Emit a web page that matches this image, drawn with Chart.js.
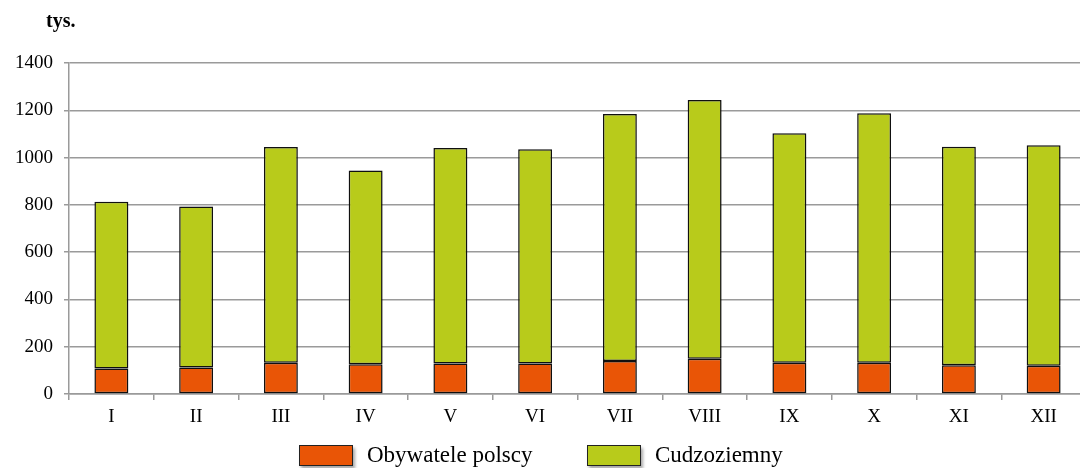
<!DOCTYPE html>
<html>
<head>
<meta charset="utf-8">
<script src="https://cdn.jsdelivr.net/npm/chart.js@4"></script>
<style>
  html, body { margin: 0; padding: 0; background: #fff; overflow: hidden; }
  #wrap { position: relative; width: 1090px; height: 468px; }
  #legend { position: absolute; top: 440px; left: 0; width: 1080px; height: 28px;
            font-family: "Liberation Serif", "Times New Roman", serif; font-size: 23px; color: #000; }
  .item { position: absolute; top: 2px; display: flex; align-items: center; }
  .box { width: 52px; height: 19px; border: 1px solid #222; box-shadow: 2px 3px 3px rgba(0,0,0,0.35); margin-right: 14px; }
</style>
</head>
<body>
<div id="wrap">
  <canvas id="chart" width="1090" height="468"></canvas>
  <div id="legend">
    <div class="item" style="left:299px"><div class="box" style="background:#E95506"></div><span>Obywatele polscy</span></div>
    <div class="item" style="left:587px"><div class="box" style="background:#B8CB1B"></div><span>Cudzoziemny</span></div>
  </div>
</div>
<script>
// miesiące
const miesiace = ['I', 'II', 'III', 'IV', 'V', 'VI', 'VII', 'VIII', 'IX', 'X', 'XI', 'XII'];
// tys. osób
const obywatelePolscy = [108, 112, 132, 126, 129, 129, 140, 149, 132, 132, 122, 119];
const cudzoziemcy = [705, 681, 913, 819, 911, 906, 1044, 1095, 971, 1055, 924, 933];
const jednostka = 'tys.';

const fontSerif = '"Liberation Serif", "Times New Roman", serif';
const gridColor = '#9a9a9a';

// napis "tys." nad osią Y
const unitLabel = {
    id: 'unitLabel',
    afterDraw(chart) {
        const c = chart.ctx;
        c.save();
        c.font = 'bold 20px ' + fontSerif;
        c.fillStyle = '#000';
        c.textBaseline = 'middle';
        c.fillText(jednostka, 46, 22);
        c.restore();
    }
};

// lekki cień pod słupkami
const barShadow = {
    id: 'barShadow',
    beforeDatasetsDraw(chart) {
        const c = chart.ctx;
        c.save();
        c.shadowColor = 'rgba(0,0,0,0.2)';
        c.shadowBlur = 3;
        c.shadowOffsetX = 1;
        c.shadowOffsetY = 1;
    },
    afterDatasetsDraw(chart) {
        chart.ctx.restore();
    }
};

new Chart(document.getElementById('chart'), {
    type: 'bar',
    data: {
        labels: miesiace,
        datasets: [
            {
                label: 'Obywatele polscy',
                data: obywatelePolscy,
                backgroundColor: '#E95506',
                borderColor: '#111',
                borderWidth: 1.5,
                borderSkipped: false,
                barPercentage: 0.4,
                categoryPercentage: 1
            },
            {
                label: 'Cudzoziemny',
                data: cudzoziemcy,
                backgroundColor: '#B8CB1B',
                borderColor: '#111',
                borderWidth: 1.5,
                borderSkipped: false,
                barPercentage: 0.4,
                categoryPercentage: 1
            }
        ]
    },
    options: {
        responsive: false,
        animation: false,
        layout: { padding: { top: 63, right: 4, bottom: 40, left: 0 } },
        plugins: {
            legend: { display: false },
            tooltip: { enabled: false }
        },
        scales: {
            x: {
                stacked: true,
                afterFit: (s) => { s.height = 34; },
                grid: {
                    drawOnChartArea: false,
                    drawTicks: true,
                    tickLength: 6,
                    color: gridColor,
                    lineWidth: 1.5
                },
                border: { color: gridColor, width: 1.5 },
                ticks: {
                    color: '#000',
                    padding: 6,
                    font: { family: fontSerif, size: 19 }
                }
            },
            y: {
                stacked: true,
                min: 0,
                max: 1400,
                afterFit: (s) => { s.width = 69; },
                grid: {
                    color: gridColor,
                    lineWidth: 1.5,
                    tickLength: 5
                },
                border: { color: gridColor, width: 1.5 },
                ticks: {
                    stepSize: 200,
                    color: '#000',
                    padding: 11,
                    font: { family: fontSerif, size: 19 },
                    callback: (v) => String(v)
                }
            }
        }
    },
    plugins: [unitLabel, barShadow]
});
</script>
</body>
</html>
